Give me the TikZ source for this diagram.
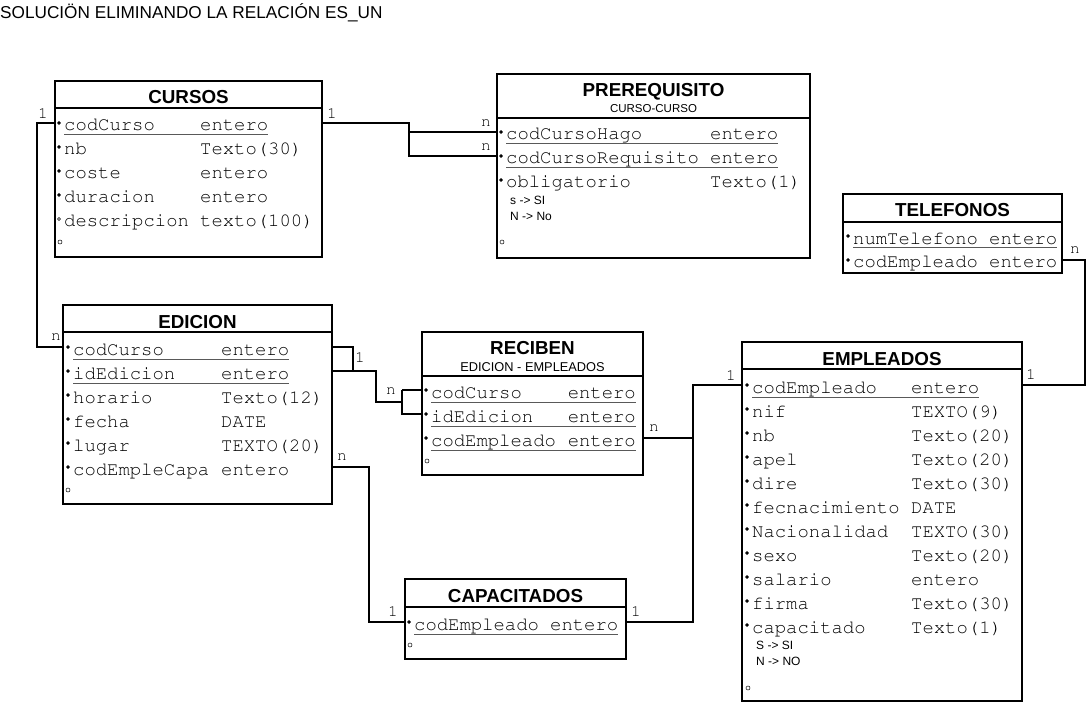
\documentclass[tikz,border=0pt]{standalone}
\usepackage[T1]{fontenc}
\usepackage{fontspec}
\setmainfont{Liberation Sans}
\setmonofont{Liberation Mono}
\usetikzlibrary{calc}

\newcommand{\courier}{\fontencoding{T1}\fontfamily{pcr}\selectfont}

\tikzset{
  caja/.style={draw, line width=2pt, anchor=north west, inner sep=0pt, outer sep=0pt},
  cabecera/.style={line width=2pt},
  titulo/.style={font=\fontsize{18.8}{20}\selectfont\bfseries, anchor=base, inner sep=0pt},
  subtit/.style={font=\fontsize{11.5}{12}\selectfont, anchor=base, inner sep=0pt},
  campo/.style={font=\fontsize{18.9}{20}\courier, anchor=base west, inner sep=0pt},
  nota/.style={font=\fontsize{12}{13}\selectfont, anchor=base west, inner sep=0pt},
  marca/.style={circle, draw, line width=0.5pt, minimum size=3pt, inner sep=0pt},
  vacio/.style={circle, draw, line width=0.5pt, minimum size=4pt, inner sep=0pt},
  subrayado/.style={line width=1pt, draw=gray!70!black},
  enlace/.style={line width=2pt},
  card/.style={font=\fontsize{16}{16}\courier, inner sep=0pt},
}

% filas de una tabla: prefijo, x nombre, x tipo, primera base, opciones tipo, lista
\newcommand{\filas}[6]{%
  \foreach \nom/\tipo/\mk [count=\i] in {#6} {
    \node[campo] (#1-n\i) at (#2, {#4+24*(\i-1)}) {\nom};
    \node[campo, #5] (#1-t\i) at (#3, {#4+24*(\i-1)}) {\tipo};
    \node[marca, fill=\mk] (#1-m\i) at ({#2-5}, {#4+24*(\i-1)-8}) {};
  }}

\begin{document}
\begin{tikzpicture}[x=1pt, y=-1pt]
\useasboundingbox (0,0) rectangle (1086,703);

\node[anchor=base west, inner sep=0pt, font=\fontsize{17.2}{18}\selectfont]
  (titulo) at (0,19) {SOLUCIÖN ELIMINANDO LA RELACIÓN ES\_UN};

% CURSOS
\node[caja, minimum width=267pt, minimum height=176pt] (cursos) at (55,81) {};
\node[titulo] (cursos-tit) at ([yshift=-23pt]cursos.north) {CURSOS};
\draw[cabecera] ([yshift=-27pt]cursos.north west) -- ([yshift=-27pt]cursos.north east);
\filas{cur}{64}{200}{131}{}{codCurso/entero/black,
  nb/Texto(30)/black,
  coste/entero/black,
  duracion/entero/black,
  descripcion/texto(100)/white}
\node[vacio] (cur-fin) at (60,242) {};
\draw[subrayado] ([yshift=-4pt]cur-n1.base west) -- ([yshift=-4pt]cur-t1.base east);

% PREREQUISITO
\node[caja, minimum width=313pt, minimum height=184pt] (prereq) at (497,74) {};
\node[titulo] (prereq-tit) at ([yshift=-23pt]prereq.north) {PREREQUISITO};
\node[subtit] (prereq-sub) at ([yshift=-39pt]prereq.north) {CURSO-CURSO};
\draw[cabecera] ([yshift=-44pt]prereq.north west) -- ([yshift=-44pt]prereq.north east);
\filas{pre}{506}{710}{140}{}{codCursoHago/entero/black,
  codCursoRequisito/entero/black,
  obligatorio/Texto(1)/black}
\node[nota] (pre-s) at (510,205) {s -> SI};
\node[nota] (pre-n) at (510,221) {N -> No};
\node[vacio] (pre-fin) at (502,242) {};
\draw[subrayado] ([yshift=-4pt]pre-n1.base west) -- ([yshift=-4pt]pre-t1.base east);
\draw[subrayado] ([yshift=-4pt]pre-n2.base west) -- ([yshift=-4pt]pre-t2.base east);

% TELEFONOS
\node[caja, minimum width=219pt, minimum height=79pt] (telefonos) at (843,194) {};
\node[titulo] (tel-tit) at ([yshift=-23pt]telefonos.north) {TELEFONOS};
\draw[cabecera] ([yshift=-28pt]telefonos.north west) -- ([yshift=-28pt]telefonos.north east);
\filas{tel}{853}{989}{244}{}{numTelefono/entero/black,
  codEmpleado/entero/black}
\draw[subrayado] ([yshift=-4pt]tel-n1.base west) -- ([yshift=-4pt]tel-t1.base east);

% EDICION
\node[caja, minimum width=269pt, minimum height=199pt] (edicion) at (63,305) {};
\node[titulo] (edi-tit) at ([yshift=-23pt]edicion.north) {EDICION};
\draw[cabecera] ([yshift=-27pt]edicion.north west) -- ([yshift=-27pt]edicion.north east);
\filas{edi}{73}{221}{355}{}{codCurso/entero/black,
  idEdicion/entero/black,
  horario/Texto(12)/black,
  fecha/DATE/black,
  lugar/TEXTO(20)/black,
  codEmpleCapa/entero/black}
\node[vacio] (edi-fin) at (68,490) {};
\draw[subrayado] ([yshift=-4pt]edi-n1.base west) -- ([yshift=-4pt]edi-t1.base east);
\draw[subrayado] ([yshift=-4pt]edi-n2.base west) -- ([yshift=-4pt]edi-t2.base east);

% RECIBEN
\node[caja, minimum width=221pt, minimum height=143pt] (reciben) at (422,332) {};
\node[titulo] (rec-tit) at ([yshift=-22pt]reciben.north) {RECIBEN};
\node[subtit, font=\fontsize{12.8}{13}\selectfont] (rec-sub) at ([yshift=-39pt]reciben.north) {EDICION - EMPLEADOS};
\draw[cabecera] ([yshift=-44pt]reciben.north west) -- ([yshift=-44pt]reciben.north east);
\filas{rec}{431}{636}{398}{anchor=base east}{codCurso/entero/black,
  idEdicion/entero/black,
  codEmpleado/entero/black}
\node[vacio] (rec-fin) at (427,461) {};
\foreach \i in {1,2,3}
  \draw[subrayado] ([yshift=-4pt]rec-n\i.base west) -- ([yshift=-4pt]rec-t\i.base east);

% EMPLEADOS
\node[caja, minimum width=280pt, minimum height=359pt] (empleados) at (742,342) {};
\node[titulo] (emp-tit) at ([yshift=-23pt]empleados.north) {EMPLEADOS};
\draw[cabecera] ([yshift=-27pt]empleados.north west) -- ([yshift=-27pt]empleados.north east);
\filas{emp}{752}{911}{393}{}{codEmpleado/entero/black,
  nif/TEXTO(9)/black,
  nb/Texto(20)/black,
  apel/Texto(20)/black,
  dire/Texto(30)/black,
  fecnacimiento/DATE/black,
  Nacionalidad/TEXTO(30)/black,
  sexo/Texto(20)/black,
  salario/entero/black,
  firma/Texto(30)/black,
  capacitado/Texto(1)/black}
\node[nota] (emp-s) at (756,649) {S -> SI};
\node[nota] (emp-n) at (756,665) {N -> NO};
\node[vacio] (emp-fin) at (748,688) {};
\draw[subrayado] ([yshift=-4pt]emp-n1.base west) -- ([yshift=-4pt]emp-t1.base east);

% CAPACITADOS
\node[caja, minimum width=221pt, minimum height=80pt] (capacitados) at (405,579) {};
\node[titulo] (cap-tit) at ([yshift=-23pt]capacitados.north) {CAPACITADOS};
\draw[cabecera] ([yshift=-28pt]capacitados.north west) -- ([yshift=-28pt]capacitados.north east);
\filas{cap}{414}{550}{630}{}{codEmpleado/entero/black}
\node[vacio] (cap-fin) at (410,645) {};
\draw[subrayado] ([yshift=-4pt]cap-n1.base west) -- ([yshift=-4pt]cap-t1.base east);

% Relaciones
\draw[enlace] (cursos.west |- cur-m1) -- ++(-18,0) |- (edicion.west |- edi-m1);
\draw[enlace] (cursos.east |- cur-m1) -- ++(87,0) coordinate (j1) |- (prereq.west |- pre-m2);
\draw[enlace] (j1 |- pre-m1) -- (prereq.west |- pre-m1);
\draw[enlace] (telefonos.east |- tel-m2) -- ++(23,0) |- (empleados.east |- emp-m1);
\draw[enlace] (edicion.east |- edi-m1) -- ++(21,0) coordinate (j2) |- (edicion.east |- edi-m2);
\coordinate (j3) at ([xshift=-20pt]reciben.west |- rec-m1);
\draw[enlace] (j3) -- (reciben.west |- rec-m1);
\draw[enlace] (j3) |- (reciben.west |- rec-m2);
\draw[enlace] (j2 |- edi-m2) -- ++(23,0) |- ($(j3)+(0,12)$);
\draw[enlace] (reciben.east |- rec-m3) -- ++(50,0) coordinate (j4) |- (empleados.west |- emp-m1);
\draw[enlace] (capacitados.east |- cap-m1) -| (j4);
\draw[enlace] (edicion.east |- edi-m6) -- ++(37,0) |- (capacitados.west |- cap-m1);

% Cardinalidades
\node[card] (c-cur-e) at (43,113) {1};
\node[card] (c-edi-c) at (56,337) {n};
\node[card] (c-cur-p) at (332,113) {1};
\node[card] (c-pre-1) at (486,123) {n};
\node[card] (c-pre-2) at (486,147) {n};
\node[card] (c-tel) at (1075,250) {n};
\node[card] (c-emp-t) at (1031,374) {1};
\node[card] (c-edi-r) at (360,357) {1};
\node[card] (c-rec-e) at (391,391) {n};
\node[card] (c-rec-p) at (654,428) {n};
\node[card] (c-emp-r) at (731,375) {1};
\node[card] (c-cap-e) at (636,611) {1};
\node[card] (c-edi-k) at (342,457) {n};
\node[card] (c-cap-d) at (393,611) {1};
\end{tikzpicture}
\end{document}
